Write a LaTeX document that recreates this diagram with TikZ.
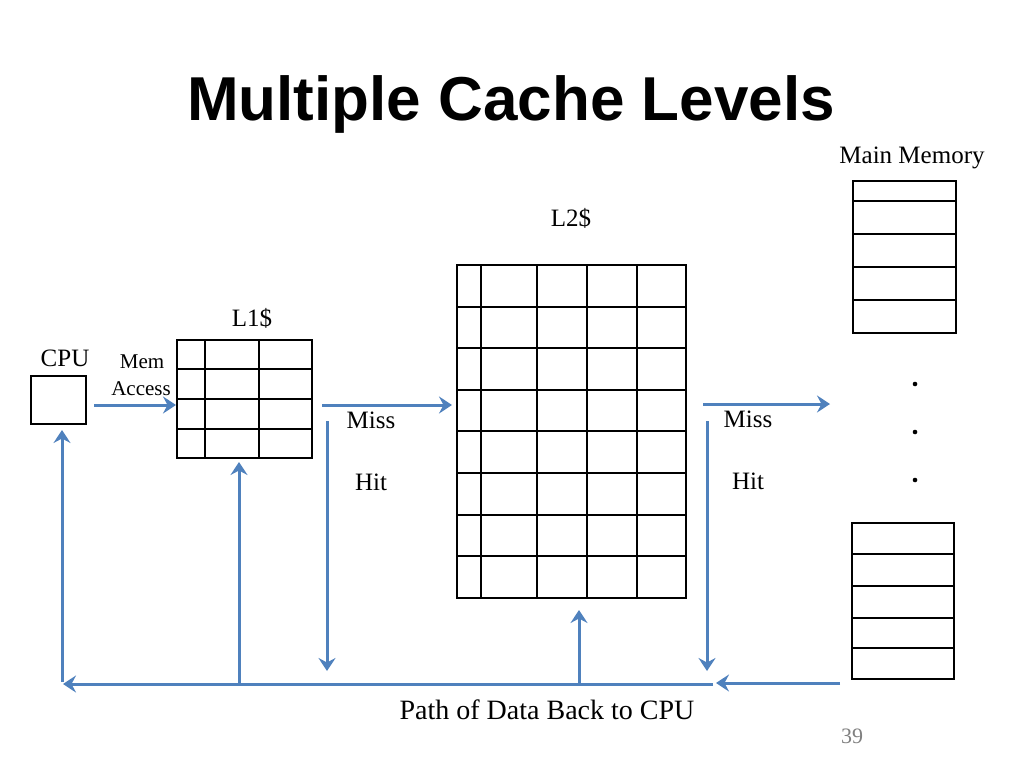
\documentclass[tikz,border=0pt]{standalone}
\usepackage{fontspec}
\setmainfont{Liberation Serif}
\newfontfamily\titlefont{Liberation Sans}
\usetikzlibrary{arrows.meta}
\definecolor{arrowblue}{HTML}{4F81BD}
\tikzset{
  box/.style={draw=black, line width=1.8pt, inner sep=0pt, fill=white},
  gridline/.style={draw=black, line width=1.8pt},
  flow/.style={draw=arrowblue, line width=3pt, -{Stealth[length=13pt,width=17pt,inset=4.5pt]}},
  lbl/.style={anchor=base, inner sep=0pt, font=\fontsize{25}{25}\selectfont},
  small/.style={anchor=base, inner sep=0pt, font=\fontsize{21}{21}\selectfont},
}
\begin{document}
\begin{tikzpicture}[x=1pt,y=-1pt]
\useasboundingbox (0,0) rectangle (1024,768);
\fill[white] (0,0) rectangle (1024,768);

% title
\node[anchor=base, inner sep=0pt, font=\titlefont\bfseries\fontsize{62}{62}\selectfont] (title) at (511,120) {Multiple Cache Levels};

% CPU
\node[box, minimum width=55pt, minimum height=48pt] (cpu) at (58.5,400) {};
\node[lbl] (cpulbl) at (65,366) {CPU};

% L1
\node[box, minimum width=135pt, minimum height=118pt] (l1) at (244.5,399) {};
\foreach \x in {205,259} \draw[gridline] (\x,340) -- (\x,458);
\foreach \y in {369,399,429} \draw[gridline] (177,\y) -- (312,\y);
\node[lbl] (l1lbl) at (252,326) {L1\$};

% L2
\node[box, minimum width=229pt, minimum height=333pt] (l2) at (571.5,431.5) {};
\foreach \x in {481,537,587,637} \draw[gridline] (\x,265) -- (\x,598);
\foreach \y in {307,348,390,431,473,515,556} \draw[gridline] (457,\y) -- (686,\y);
\node[lbl] (l2lbl) at (571,226) {L2\$};

% Main memory
\node[lbl] (mmlbl) at (912,163) {Main Memory};
\node[box, minimum width=103pt, minimum height=152pt] (mmtop) at (904.5,257) {};
\foreach \y in {201,234,267,300} \draw[gridline] (853,\y) -- (956,\y);
\node[box, minimum width=102pt, minimum height=156pt] (mmbot) at (903,601) {};
\foreach \y in {554,586,618,648} \draw[gridline] (852,\y) -- (954,\y);
\foreach \y in {384,432,480} \fill (915,\y) circle (2.3pt);

% labels
\node[small] (mem) at (142,368) {Mem};
\node[small] (acc) at (141,395) {Access};
\node[lbl] (miss1) at (371,428) {Miss};
\node[lbl] (hit1) at (371,490) {Hit};
\node[lbl] (miss2) at (748,427) {Miss};
\node[lbl] (hit2) at (748,489) {Hit};
\node[anchor=base, inner sep=0pt, font=\fontsize{28}{28}\selectfont] (path) at (547,719) {Path of Data Back to CPU};
\node[anchor=base, inner sep=0pt, text=gray, font=\fontsize{22}{22}\selectfont] (pg) at (852,743) {39};

% connector coordinates
\coordinate (c1s) at (94,405);
\coordinate (c1e) at (176,405);
\coordinate (c2s) at (322,405);
\coordinate (c2e) at (452,405);
\coordinate (c3s) at (703,404);
\coordinate (c3e) at (830,404);
\coordinate (d1s) at (327,421);
\coordinate (d1e) at (327,671);
\coordinate (d2s) at (707,421);
\coordinate (d2e) at (707,671);
\coordinate (bR) at (713,684);
\coordinate (bL) at (63,684);
\coordinate (mmR) at (840,683);
\coordinate (mmL) at (716,683);
\coordinate (u1b) at (62,682);
\coordinate (u1t) at (62,430);
\coordinate (u2b) at (239,684);
\coordinate (u2t) at (239,462);
\coordinate (u3b) at (579,684);
\coordinate (u3t) at (579,610);

% arrows
\draw[flow] (c1s) -- (c1e);
\draw[flow] (c2s) -- (c2e);
\draw[flow] (c3s) -- (c3e);
\draw[flow] (d1s) -- (d1e);
\draw[flow] (d2s) -- (d2e);
\draw[flow] (bR) -- (bL);
\draw[flow] (mmR) -- (mmL);
\draw[flow] (u1b) -- (u1t);
\draw[flow] (u2b) -- (u2t);
\draw[flow] (u3b) -- (u3t);
\end{tikzpicture}
\end{document}
